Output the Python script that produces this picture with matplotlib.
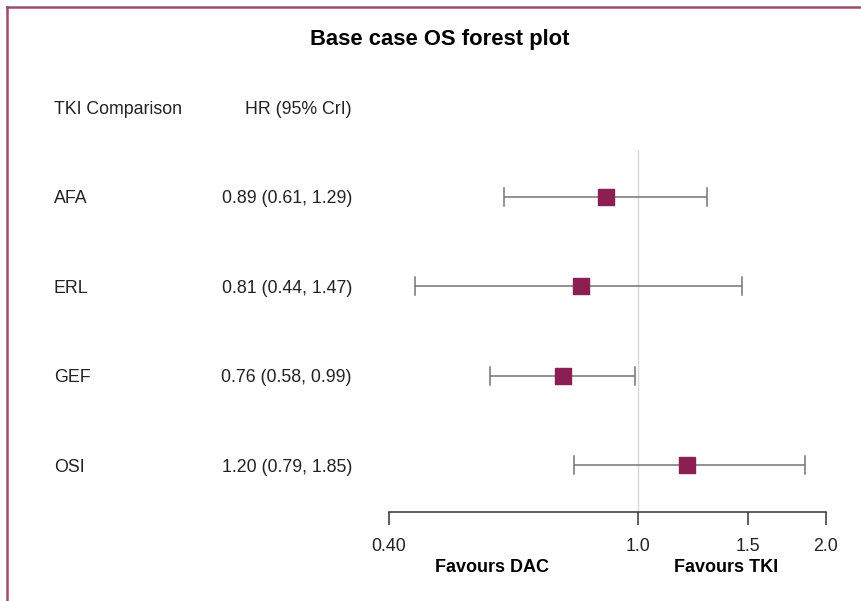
import numpy as np
import matplotlib
matplotlib.use("Agg")
from matplotlib import pyplot as plt
from matplotlib.transforms import blended_transform_factory

plt.rcParams['font.family'] = ['Liberation Sans', 'DejaVu Sans']

# Data
treatments = ["AFA", "ERL", "GEF", "OSI"]
hr = [0.89, 0.81, 0.76, 1.20]
lower = [0.61, 0.44, 0.58, 0.79]
upper = [1.29, 1.47, 0.99, 1.85]
tick_values = [0.40, 1.0, 1.5, 2.0]
tick_labels = ["0.40", "1.0", "1.5", "2.0"]

W, H = 862, 601
fig = plt.figure(figsize=(W / 100, H / 100), dpi=100)

# axes placed in pixel terms (axis line at y=512, top at y=150)
left, right = 389 / W, 826 / W
bottom, top = 1 - 512 / H, 1 - 150 / H
ax = fig.add_axes([left, bottom, right - left, top - bottom])
ax.set_xscale('log')
ax.set_xlim(0.40, 2.0)
ax.set_ylim(0.474, 4.526)

ypos = np.arange(len(treatments), 0, -1)  # AFA on top
marker_col = '#8b1f52'
line_col = '#747474'
fs = 12.8

ax.axvline(1.0, color='#d8d8d8', lw=1, zorder=0)
ax.hlines(ypos, lower, upper, color=line_col, lw=1.1)
for lo, hi, y in zip(lower, upper, ypos):
    ax.plot([lo, lo], [y - 0.1, y + 0.1], color=line_col, lw=1.1)
    ax.plot([hi, hi], [y - 0.1, y + 0.1], color=line_col, lw=1.1)
ax.scatter(hr, ypos, marker='s', s=118, color=marker_col, zorder=3)

for s in ['top', 'right', 'left']:
    ax.spines[s].set_visible(False)
ax.spines['bottom'].set_color('#333333')
ax.spines['bottom'].set_linewidth(1.1)
ax.set_yticks([])
ax.set_xticks(tick_values)
ax.set_xticklabels(tick_labels, fontsize=fs, color='#222222')
ax.xaxis.set_minor_locator(matplotlib.ticker.NullLocator())
ax.tick_params(axis='x', length=9, width=1.1, color='#333333', pad=10)

# left-hand columns
tr = blended_transform_factory(fig.transFigure, ax.transData)
ax.text(54 / W, 5, "TKI Comparison", transform=tr, fontsize=fs,
        va='center_baseline', ha='left', color='#222222')
ax.text(352 / W, 5, "HR (95% CrI)", transform=tr, fontsize=fs,
        va='center_baseline', ha='right', color='#222222')
for name, h, lo, hi, y in zip(treatments, hr, lower, upper, ypos):
    ax.text(54 / W, y, name, transform=tr, fontsize=fs,
            va='center_baseline', ha='left', color='#222222')
    ax.text(352 / W, y, f"{h:.2f} ({lo:.2f}, {hi:.2f})", transform=tr,
            fontsize=fs, va='center_baseline', ha='right', color='#222222')

fig.text(440 / W, 1 - 40 / H, "Base case OS forest plot", fontsize=15.8,
         fontweight='bold', ha='center', va='center')
fig.text(492 / W, 1 - 567 / H, "Favours DAC", fontsize=13,
         fontweight='bold', ha='center', va='center')
fig.text(726 / W, 1 - 567 / H, "Favours TKI", fontsize=13,
         fontweight='bold', ha='center', va='center')

# outer frame
fig.add_artist(plt.Line2D([7 / W, 7 / W], [0, 1 - 7 / H], color='#9c4d6c',
                          lw=1.8, transform=fig.transFigure))
fig.add_artist(plt.Line2D([7 / W, 1], [1 - 7 / H, 1 - 7 / H], color='#9c4d6c',
                          lw=1.8, transform=fig.transFigure))

fig.savefig("out.png", dpi=100)
